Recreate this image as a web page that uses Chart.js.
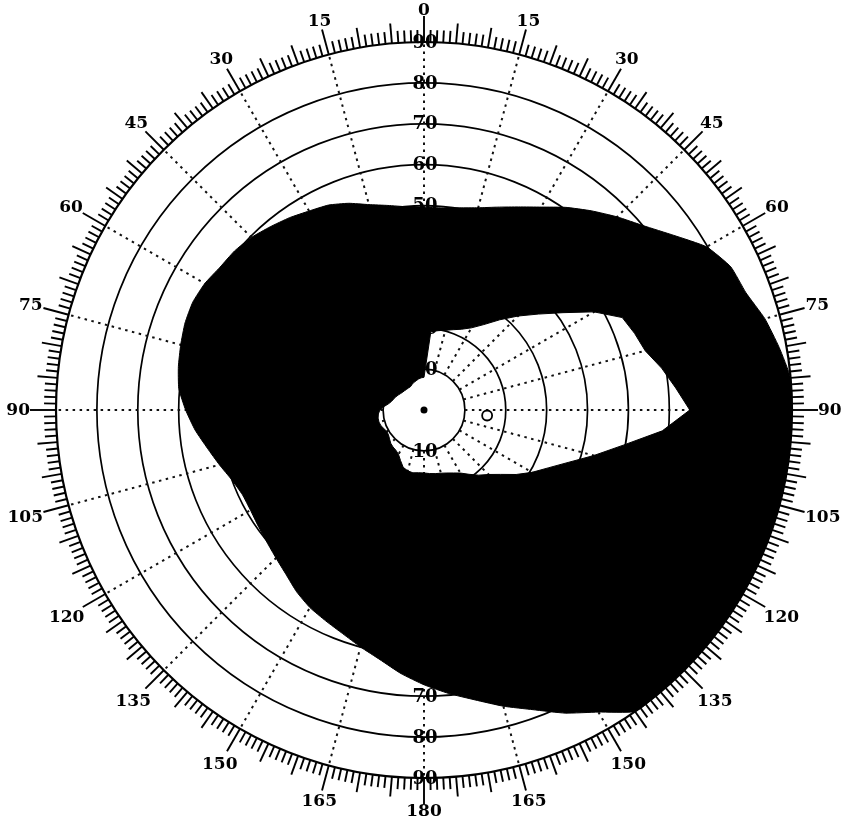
<!DOCTYPE html>
<html>
<head>
<meta charset="utf-8">
<title>Perimeter chart</title>
<script src="https://cdn.jsdelivr.net/npm/chart.js@4.4.1/dist/chart.umd.min.js"></script>
<style>
  html, body { margin: 0; padding: 0; background: #fff; }
  #wrap { width: 853px; height: 824px; position: relative; }
</style>
</head>
<body>
<div id="wrap"><canvas id="field"></canvas></div>
<script>
// meridians every 5 degrees, clockwise from the top (0 = up, 90 = right)
const meridians = [
  0, 5, 10, 15, 20, 25, 30, 35, 40, 45, 50, 55,
  60, 65, 70, 75, 80, 85, 90, 95, 100, 105, 110, 115,
  120, 125, 130, 135, 140, 145, 150, 155, 160, 165, 170, 175,
  180, 185, 190, 195, 200, 205, 210, 215, 220, 225, 230, 235,
  240, 245, 250, 255, 260, 265, 270, 275, 280, 285, 290, 295,
  300, 305, 310, 315, 320, 325, 330, 335, 340, 345, 350, 355
];

// outer edge of the dark (blind) zone, in degrees from fixation
const outerEdge = [
  49.6, 49.6, 50.2, 51.2, 52.8, 54.8, 57.3, 60.5, 63.6, 66.8, 70.1, 74.5,
  79.8, 82.8, 83.8, 86.3, 88.2, 90, 90, 90, 90, 90, 90, 90,
  90, 90, 90, 90, 90, 90, 85.3, 81.8, 78.0, 75.0, 72.0, 69.6,
  67.2, 64.7, 62.0, 60.0, 58.2, 56.9, 55.8, 54.3, 52.5, 51.2, 50.2, 49.5,
  49.0, 49.0, 50.0, 51.8, 53.8, 56.2, 58.3, 60.2, 61.0, 61.6, 62.2, 62.4,
  61.9, 60.9, 60.5, 59.7, 58.5, 57.4, 56.2, 55.3, 53.8, 52.0, 50.8, 49.9
];

// inner edge (the seeing field left around fixation)
const innerEdge = [
  8.0, 19.2, 19.7, 20.2, 20.9, 21.8, 23.2, 25.5, 28.8, 32.5, 36.5, 41.5,
  48.0, 53.5, 54.8, 56.0, 59.0, 61.8, 65.0, 58.5, 49.5, 43.0, 37.5, 33.5,
  30.5, 27.5, 24.5, 22.3, 20.8, 19.2, 17.8, 17.0, 16.4, 16.0, 15.8, 15.6,
  15.4, 15.4, 15.6, 15.4, 14.9, 13.6, 12.5, 12.0, 11.8, 11.5, 11.0, 10.6,
  10.5, 10.8, 11.2, 11.4, 11.4, 11.2, 10.8, 9.8, 8.8, 8.2, 7.9, 7.6,
  7.3, 7.0, 6.8, 6.7, 6.6, 6.6, 6.6, 6.9, 7.2, 7.4, 7.7, 7.9
];

const blindSpot = { meridian: 95, degrees: 15.5 };
const fixation = { meridian: 0, degrees: 0 };

const ringValues = [10, 20, 30, 40, 50, 60, 70, 80, 90];
const meridianLabels = ['0', '15', '30', '45', '60', '75', '90', '105', '120', '135', '150', '165',
                        '180', '165', '150', '135', '120', '105', '90', '75', '60', '45', '30', '15'];

const labelFont = 'bold 17px "DejaVu Serif", "Liberation Serif", serif';
const ringFont = 'bold 18px "DejaVu Serif", "Liberation Serif", serif';

const blindSpotSeries = meridians.map(m => m === blindSpot.meridian ? blindSpot.degrees : null);
const fixationSeries = meridians.map(m => m === fixation.meridian ? fixation.degrees : null);

const perimeterPlugin = {
    id: 'perimeter',
    beforeDatasetsDraw(chart) {
        const s = chart.scales.r;
        const ctx = chart.ctx;

        // dotted meridians every 15 deg, from the 10 deg circle outward
        ctx.save();
        ctx.strokeStyle = '#111';
        ctx.lineWidth = 2;
        ctx.setLineDash([2.5, 4.5]);
        meridianLabels.forEach((_, i) => {
            const idx = meridians.indexOf(i * 15);
            const a = s.getPointPosition(idx, s.getDistanceFromCenterForValue(10));
            const b = s.getPointPosition(idx, s.getDistanceFromCenterForValue(90));
            ctx.beginPath();
            ctx.moveTo(a.x, a.y);
            ctx.lineTo(b.x, b.y);
            ctx.stroke();
        });
        ctx.restore();

        // circle values on the vertical meridian, top and bottom
        ctx.save();
        ctx.font = ringFont;
        ctx.fillStyle = '#000';
        ctx.textAlign = 'center';
        ctx.textBaseline = 'middle';
        const up = meridians.indexOf(0);
        const down = meridians.indexOf(180);
        ringValues.forEach(v => {
            const d = s.getDistanceFromCenterForValue(v);
            const p1 = s.getPointPosition(up, d);
            const p2 = s.getPointPosition(down, d);
            ctx.fillText(String(v), p1.x + 1, p1.y + 1);
            ctx.fillText(String(v), p2.x + 1, p2.y + 1);
        });
        ctx.restore();
    },
    afterDraw(chart) {
        const s = chart.scales.r;
        const ctx = chart.ctx;
        const r0 = s.getDistanceFromCenterForValue(90);

        // degree ticks round the rim
        ctx.save();
        ctx.strokeStyle = '#000';
        ctx.lineWidth = 1.9;
        for (let deg = 0; deg < 360; deg++) {
            const len = deg % 15 === 0 ? 26 : (deg % 5 === 0 ? 20 : 12);
            const a = deg * Math.PI / 180 - Math.PI / 2;
            ctx.beginPath();
            ctx.moveTo(s.xCenter + Math.cos(a) * r0, s.yCenter + Math.sin(a) * r0);
            ctx.lineTo(s.xCenter + Math.cos(a) * (r0 + len), s.yCenter + Math.sin(a) * (r0 + len));
            ctx.stroke();
        }
        ctx.restore();

        // meridian numbers
        ctx.save();
        ctx.font = labelFont;
        ctx.fillStyle = '#000';
        ctx.textAlign = 'center';
        ctx.textBaseline = 'middle';
        meridianLabels.forEach((txt, i) => {
            const a = i * 15 * Math.PI / 180 - Math.PI / 2;
            const ux = Math.cos(a), uy = Math.sin(a);
            const w = ctx.measureText(txt).width;
            const h = 13;
            const r = r0 + 26 + Math.abs(ux) * w / 2 + Math.abs(uy) * h / 2;
            ctx.fillText(txt, s.xCenter + ux * r, s.yCenter + uy * r + 1);
        });
        ctx.restore();
    }
};

new Chart(document.getElementById('field'), {
    type: 'radar',
    data: {
        labels: meridians,
        datasets: [
            {
                data: outerEdge,
                fill: '+1',
                backgroundColor: '#000',
                borderColor: '#000',
                borderWidth: 1,
                pointRadius: 0,
                tension: 0.15
            },
            {
                data: innerEdge,
                fill: false,
                borderColor: '#000',
                borderWidth: 1,
                pointRadius: 0,
                tension: 0
            },
            {
                data: blindSpotSeries,
                fill: false,
                showLine: false,
                pointRadius: 5,
                pointBorderWidth: 1.8,
                pointBorderColor: '#000',
                pointBackgroundColor: 'rgba(0,0,0,0)'
            },
            {
                data: fixationSeries,
                fill: false,
                showLine: false,
                pointRadius: 3.5,
                pointBorderWidth: 0,
                pointBackgroundColor: '#000'
            }
        ]
    },
    options: {
        responsive: true,
        maintainAspectRatio: false,
        animation: false,
        layout: { padding: { left: 56, right: 61, top: 42, bottom: 46 } },
        plugins: {
            legend: { display: false },
            tooltip: { enabled: false }
        },
        scales: {
            r: {
                min: 0,
                max: 90,
                ticks: { display: false, stepSize: 10 },
                grid: {
                    circular: true,
                    color: '#000',
                    lineWidth: c => c.tick.value === 90 ? 2.2 : 1.7
                },
                angleLines: { display: false },
                pointLabels: { display: false }
            }
        }
    },
    plugins: [perimeterPlugin]
});
</script>
</body>
</html>
